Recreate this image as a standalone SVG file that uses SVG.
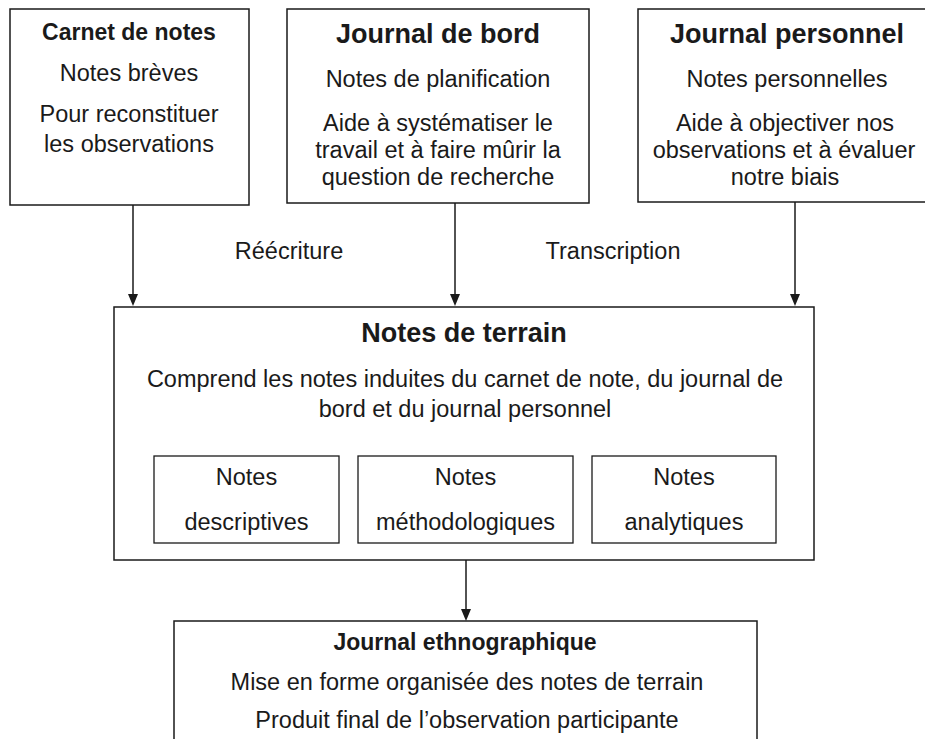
<svg xmlns="http://www.w3.org/2000/svg" width="925" height="739" viewBox="0 0 925 739">
  <style>
    .box { fill: #ffffff; stroke: #1a1a1a; stroke-width: 1.5; }
    .sub { fill: #ffffff; stroke: #1a1a1a; stroke-width: 1.3; }
    .link { stroke: #1a1a1a; stroke-width: 1.5; fill: none; }
    .head { fill: #1a1a1a; }
    text { font-family: "Liberation Sans", Arial, sans-serif; fill: #1a1a1a; text-anchor: middle; }
    .t { font-size: 23.5px; }
    .h { font-weight: bold; font-size: 27px; }
    .hs { font-weight: bold; font-size: 23px; }
  </style>
  <rect width="925" height="739" fill="#ffffff"/>

  <g id="connectors">
    <line class="link" x1="133" y1="205" x2="133" y2="296"/>
    <path class="head" d="M128,294 L138,294 L133,306 Z"/>
    <line class="link" x1="455" y1="203" x2="455" y2="296"/>
    <path class="head" d="M450,294 L460,294 L455,306 Z"/>
    <line class="link" x1="795" y1="202" x2="795" y2="296"/>
    <path class="head" d="M790,294 L800,294 L795,306 Z"/>
    <line class="link" x1="466" y1="560" x2="466" y2="611"/>
    <path class="head" d="M461,609 L471,609 L466,621 Z"/>
    <text class="t" x="289" y="259">Réécriture</text>
    <text class="t" x="613" y="259">Transcription</text>
  </g>

  <g id="carnet">
    <rect class="box" x="10" y="9" width="239" height="196"/>
    <text class="hs" x="129" y="40">Carnet de notes</text>
    <text class="t" x="129" y="81">Notes brèves</text>
    <text class="t" x="129" y="122">Pour reconstituer</text>
    <text class="t" x="129" y="152">les observations</text>
  </g>

  <g id="journal-bord">
    <rect class="box" x="287" y="9" width="302" height="194"/>
    <text class="h" x="438" y="43">Journal de bord</text>
    <text class="t" x="438" y="87">Notes de planification</text>
    <text class="t" x="438" y="131">Aide à systématiser le</text>
    <text class="t" x="438" y="158">travail et à faire mûrir la</text>
    <text class="t" x="438" y="185">question de recherche</text>
  </g>

  <g id="journal-personnel">
    <rect class="box" x="638" y="9" width="300" height="193"/>
    <text class="h" x="787" y="43">Journal personnel</text>
    <text class="t" x="787" y="87">Notes personnelles</text>
    <text class="t" x="785" y="131">Aide à objectiver nos</text>
    <text class="t" x="784" y="158">observations et à évaluer</text>
    <text class="t" x="785" y="185">notre biais</text>
  </g>

  <g id="notes-terrain">
    <rect class="box" x="114" y="307" width="700" height="253"/>
    <text class="h" x="464" y="342">Notes de terrain</text>
    <text class="t" x="465" y="387">Comprend les notes induites du carnet de note, du journal de</text>
    <text class="t" x="465" y="417">bord et du journal personnel</text>
  </g>

  <g id="notes-descriptives">
    <rect class="sub" x="154" y="456" width="185" height="87"/>
    <text class="t" x="246.5" y="485">Notes</text>
    <text class="t" x="246.5" y="530">descriptives</text>
  </g>

  <g id="notes-methodologiques">
    <rect class="sub" x="358" y="456" width="215" height="87"/>
    <text class="t" x="465.5" y="485">Notes</text>
    <text class="t" x="465.5" y="530">méthodologiques</text>
  </g>

  <g id="notes-analytiques">
    <rect class="sub" x="592" y="456" width="184" height="87"/>
    <text class="t" x="684" y="485">Notes</text>
    <text class="t" x="684" y="530">analytiques</text>
  </g>

  <g id="journal-ethnographique">
    <rect class="box" x="174" y="621" width="583" height="130"/>
    <text class="hs" x="465" y="650">Journal ethnographique</text>
    <text class="t" x="467" y="690">Mise en forme organisée des notes de terrain</text>
    <text class="t" x="467" y="728">Produit final de l’observation participante</text>
  </g>
</svg>
